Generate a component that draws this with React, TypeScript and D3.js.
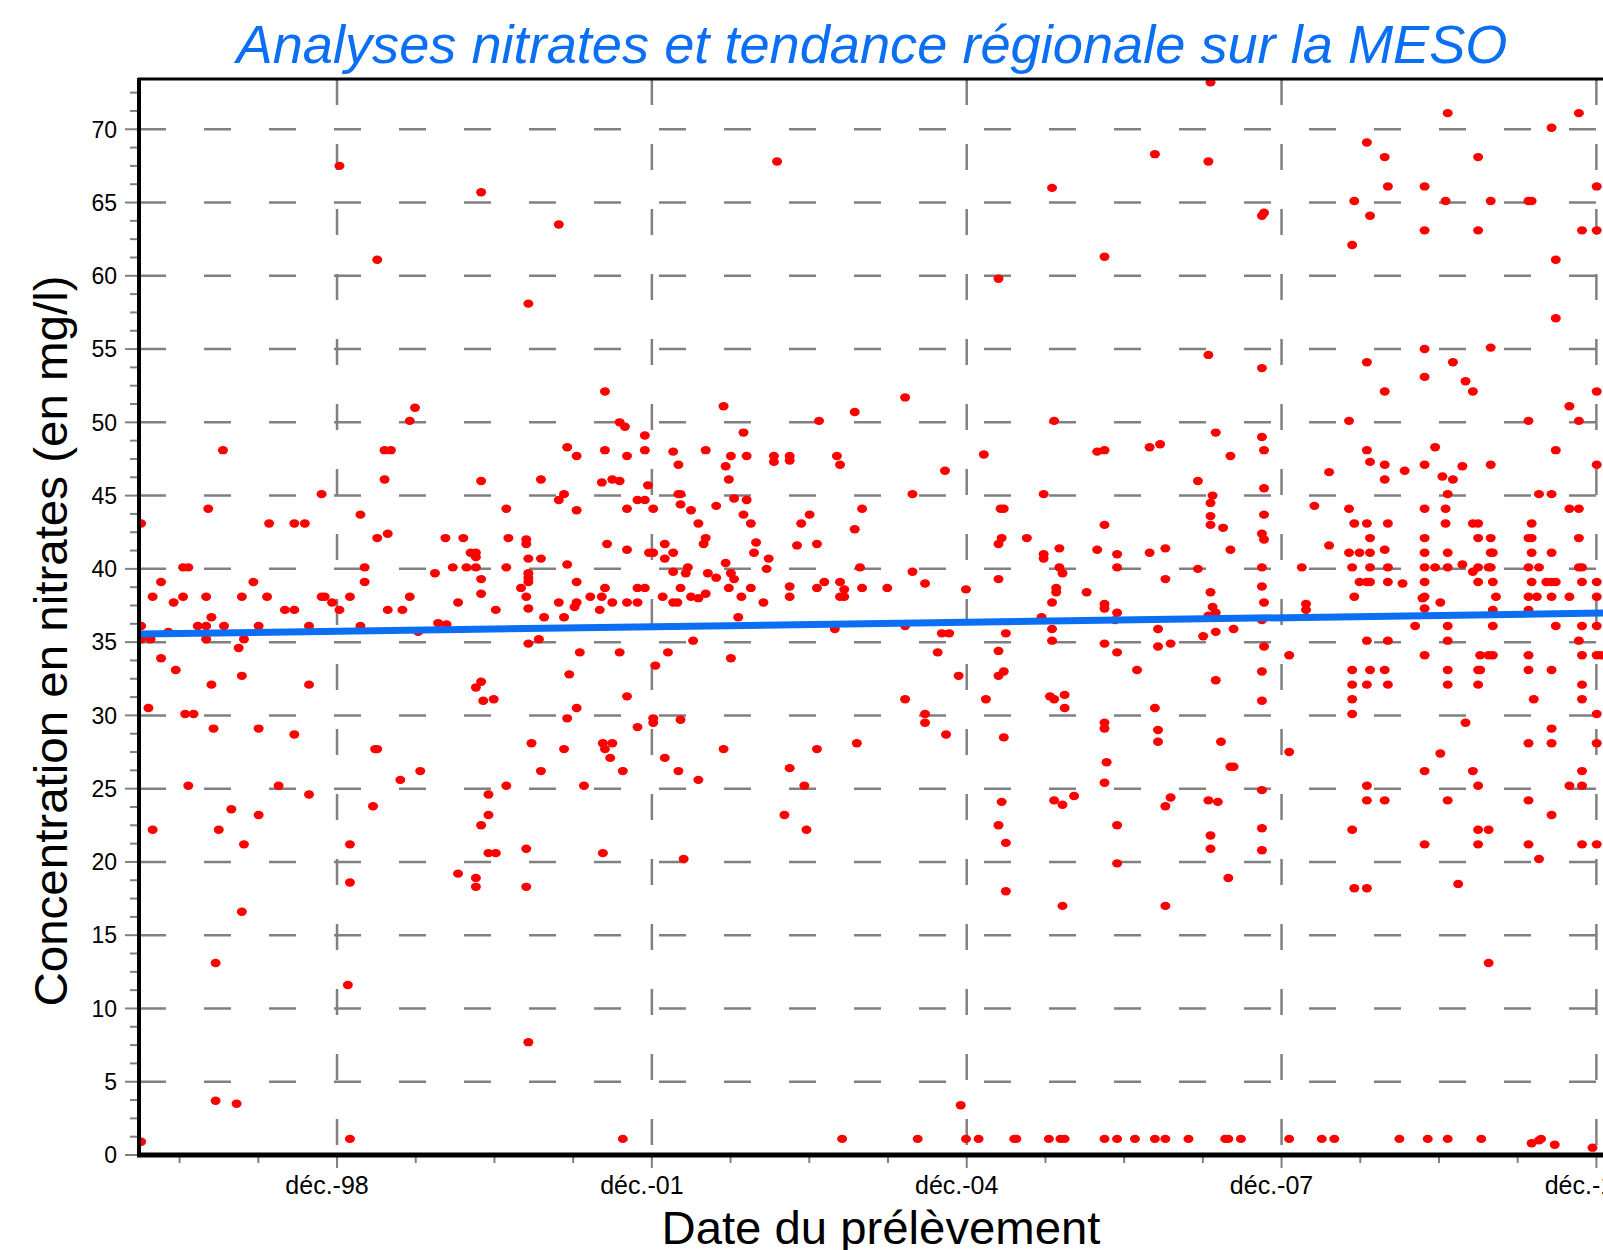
import React from 'react';
import * as d3 from 'd3';

// Analyses nitrates (mg/l) par date de prélèvement (année décimale)
const analyses1997_2001: [number, number][] = [
  [1998.94, 67.5], [2000.29, 65.7], [2001.03, 63.5], [1999.30, 61.1], [2000.74, 58.1], [2001.47, 52.1], [1999.66, 51.0], [1999.61, 50.1], [2001.61, 50.0], [2001.66, 49.7],
  [1997.83, 48.1], [1999.37, 48.1], [1999.43, 48.1], [2001.11, 48.3], [2001.20, 47.7], [2001.47, 48.1], [2001.68, 47.7],
  [1999.37, 46.1], [2000.29, 46.0], [2000.86, 46.1], [2001.44, 45.9], [2001.54, 46.1], [2001.61, 46.0],
  [1998.77, 45.1], [2001.08, 45.1], [2001.03, 44.7], [1997.69, 44.1], [1999.14, 43.7], [2000.53, 44.1], [2001.20, 44.0], [2001.68, 44.1],
  [1997.05, 43.1], [1998.27, 43.1], [1998.51, 43.1], [1998.61, 43.1],
  [1999.30, 42.1], [1999.40, 42.4], [1999.95, 42.1], [2000.12, 42.1], [2000.55, 42.1], [2000.72, 42.0], [2000.72, 41.7], [2001.49, 41.7], [2001.68, 41.3],
  [2000.19, 41.1], [2000.24, 41.1], [2000.24, 40.8], [2000.74, 40.7], [2000.86, 40.7],
  [1997.45, 40.1], [1997.50, 40.1], [1999.18, 40.1], [2000.02, 40.1], [2000.15, 40.1], [2000.24, 40.1], [2000.53, 40.1], [2001.11, 40.3],
  [1999.85, 39.7], [2000.74, 39.7], [2000.74, 39.4], [2000.74, 39.1],
  [1997.24, 39.1], [1998.12, 39.1], [1999.18, 39.1], [2000.29, 39.3], [2001.20, 39.1], [2000.67, 38.7], [2001.47, 38.7],
  [1997.16, 38.1], [1997.45, 38.1], [1997.67, 38.1], [1998.01, 38.1], [1998.25, 38.1], [1998.77, 38.1], [1998.80, 38.1], [1999.04, 38.1], [1999.61, 38.1], [2000.29, 38.3], [2000.72, 38.1], [2001.33, 38.1], [2001.44, 38.1],
  [1997.36, 37.7], [1998.87, 37.7], [2000.07, 37.7], [2001.03, 37.7], [2001.20, 37.7], [2001.18, 37.4], [2001.54, 37.7], [2001.68, 37.7],
  [1997.05, 36.1], [1998.42, 37.2], [1998.51, 37.2], [1998.94, 37.2], [1999.40, 37.2], [1999.54, 37.2], [2000.43, 37.2], [2000.74, 37.3], [2001.42, 37.2],
  [1997.72, 36.7], [2000.89, 36.7], [2001.08, 36.7],
  [1997.59, 36.1], [1997.67, 36.1], [1997.84, 36.1], [1998.17, 36.1], [1998.65, 36.1], [1997.31, 35.7], [1999.14, 36.1], [1999.88, 36.3], [1999.96, 36.2], [1999.69, 35.7],
  [1997.05, 35.2], [1997.14, 35.2], [1997.67, 35.2], [1998.03, 35.2], [1997.98, 34.6], [2000.74, 34.9], [2000.84, 35.2], [2001.23, 34.3], [2001.61, 34.3],
  [1997.24, 33.9], [1997.38, 33.1], [1998.01, 32.7], [1997.72, 32.1], [1998.65, 32.1], [2001.13, 32.8], [2000.29, 32.3], [2000.24, 31.9], [2000.31, 31.0], [2000.41, 31.1], [2001.68, 31.3],
  [1997.12, 30.5], [1997.47, 30.1], [1997.55, 30.1], [2001.20, 30.5], [2001.11, 29.8], [1997.74, 29.1], [1998.17, 29.1], [1998.51, 28.7],
  [2000.77, 28.1], [2001.45, 28.1], [2001.54, 28.1], [2001.47, 27.7], [2001.52, 27.1], [2001.08, 27.7], [1999.28, 27.7], [1999.30, 27.7],
  [1999.71, 26.2], [1999.52, 25.6], [2000.86, 26.2], [2001.64, 26.2],
  [1997.50, 25.2], [1998.36, 25.2], [2000.53, 25.2], [2001.27, 25.2], [1998.65, 24.6], [2000.36, 24.6],
  [1997.91, 23.6], [1999.26, 23.8], [1998.17, 23.2], [2000.36, 23.2], [2000.29, 22.5], [1997.16, 22.2], [1997.79, 22.2],
  [1998.03, 21.2], [1999.04, 21.2], [2000.36, 20.6], [2000.43, 20.6], [2000.72, 20.9], [2001.45, 20.6],
  [2000.07, 19.2], [2000.24, 18.9], [2000.24, 18.3], [2000.72, 18.3], [1999.04, 18.6],
  [1998.01, 16.6], [1997.76, 13.1], [1999.02, 11.6], [2000.74, 7.7], [1997.76, 3.7], [1997.96, 3.5],
  [1997.05, 0.9], [1999.04, 1.1], [2001.64, 1.1],
];

const analyses2001_2006: [number, number][] = [
  [2003.11, 67.8], [2005.73, 66.0], [2006.23, 61.3], [2005.22, 59.8], [2004.33, 51.7], [2002.60, 51.1], [2003.85, 50.7], [2003.51, 50.1], [2005.75, 50.1],
  [2001.85, 49.1], [2002.79, 49.3], [2001.85, 48.1], [2002.12, 48.0], [2002.43, 48.1], [2002.17, 47.1], [2002.67, 47.7], [2002.82, 47.7], [2002.62, 47.0],
  [2003.08, 47.7], [2003.08, 47.3], [2003.23, 47.7], [2003.23, 47.4], [2003.68, 47.7], [2003.71, 47.1], [2005.08, 47.8], [2006.16, 48.0], [2006.23, 48.1],
  [2002.65, 46.1], [2004.71, 46.7], [2001.88, 45.7], [2002.17, 45.1], [2002.19, 45.1], [2004.40, 45.1], [2005.65, 45.1],
  [2001.78, 44.7], [2001.85, 44.7], [2002.70, 44.8], [2002.82, 44.7], [2001.93, 44.1], [2002.19, 44.4], [2002.29, 44.0], [2002.53, 44.3], [2003.92, 44.1], [2005.24, 44.1], [2005.27, 44.1],
  [2002.79, 43.7], [2003.42, 43.7], [2002.36, 43.1], [2002.86, 43.1], [2003.34, 43.1], [2006.23, 43.0], [2003.85, 42.7],
  [2002.43, 42.1], [2002.41, 41.7], [2002.04, 41.7], [2002.91, 41.8], [2003.30, 41.6], [2003.49, 41.7], [2005.25, 42.1], [2005.22, 41.7], [2005.49, 42.1],
  [2001.89, 41.1], [2001.93, 41.1], [2002.12, 41.1], [2002.04, 40.7], [2002.89, 41.1], [2003.03, 40.7], [2005.80, 41.4], [2005.65, 41.0], [2005.65, 40.7], [2006.16, 41.3],
  [2002.12, 39.8], [2002.26, 40.1], [2002.24, 39.7], [2002.62, 40.4], [2002.45, 39.7], [2002.53, 39.4], [2002.67, 39.7], [2002.70, 39.3], [2003.01, 40.0], [2003.90, 40.1], [2004.40, 39.8], [2005.22, 39.3], [2005.80, 40.1], [2005.83, 39.7],
  [2001.78, 38.7], [2001.85, 38.7], [2002.19, 38.7], [2002.65, 38.7], [2002.86, 38.7], [2003.23, 38.8], [2003.49, 38.7], [2003.56, 39.1], [2003.71, 39.1], [2003.75, 38.6], [2003.92, 38.7], [2004.16, 38.7], [2004.52, 39.0], [2004.91, 38.6], [2005.77, 38.7], [2005.77, 38.4], [2006.06, 38.4],
  [2002.02, 38.1], [2002.29, 38.1], [2002.36, 38.0], [2002.43, 38.3], [2002.77, 38.1], [2003.23, 38.1], [2003.71, 38.1], [2003.75, 38.1],
  [2001.78, 37.7], [2002.12, 37.7], [2002.16, 37.7], [2002.98, 37.7], [2005.73, 37.7], [2006.23, 37.6], [2006.23, 37.3],
  [2002.74, 36.7], [2003.66, 35.9], [2004.33, 36.1], [2005.63, 36.7],
  [2002.31, 35.1], [2004.68, 35.6], [2004.75, 35.6], [2005.29, 35.6], [2005.73, 35.9], [2005.73, 35.1],
  [2002.07, 34.3], [2002.67, 33.9], [2001.95, 33.4], [2004.64, 34.3], [2005.22, 34.4], [2006.23, 34.9],
  [2004.84, 32.7], [2005.22, 32.7], [2005.27, 33.0],
  [2004.33, 31.1], [2005.10, 31.1], [2005.71, 31.3], [2005.75, 31.1], [2005.85, 31.4], [2005.85, 30.5],
  [2001.93, 29.8], [2001.93, 29.5], [2001.78, 29.2], [2002.19, 29.7], [2004.52, 30.1], [2004.52, 29.5], [2004.72, 28.7], [2005.27, 28.5], [2006.23, 29.5], [2006.23, 29.1],
  [2002.60, 27.7], [2003.49, 27.7], [2003.87, 28.1], [2002.04, 27.1],
  [2002.17, 26.2], [2002.36, 25.6], [2003.23, 26.4], [2003.37, 25.2], [2006.25, 26.8], [2006.23, 25.4],
  [2005.25, 24.1], [2005.75, 24.2], [2005.83, 23.9], [2005.94, 24.5],
  [2003.18, 23.2], [2003.39, 22.2], [2005.22, 22.5], [2005.29, 21.3], [2002.22, 20.2], [2005.29, 18.0], [2005.83, 17.0],
  [2004.86, 3.4],
  [2003.73, 1.1], [2004.45, 1.1], [2004.91, 1.1], [2005.03, 1.1], [2005.37, 1.1], [2005.39, 1.1], [2005.70, 1.1], [2005.81, 1.1], [2005.85, 1.1], [2006.23, 1.1],
];

const analyses2006_2011: [number, number][] = [
  [2007.24, 73.2], [2009.50, 71.1], [2010.75, 71.1], [2010.49, 70.1], [2008.73, 69.1], [2008.90, 68.1], [2009.79, 68.1], [2006.71, 68.3], [2007.22, 67.8],
  [2008.93, 66.1], [2009.28, 66.1], [2010.92, 66.1], [2008.61, 65.1], [2009.48, 65.1], [2009.91, 65.1], [2010.27, 65.1], [2010.30, 65.1],
  [2007.73, 64.1], [2007.75, 64.3], [2008.76, 64.1], [2009.28, 63.1], [2009.79, 63.1], [2010.78, 63.1], [2010.92, 63.1], [2008.59, 62.1], [2010.53, 61.1], [2010.53, 57.1],
  [2009.28, 55.0], [2009.91, 55.1], [2007.22, 54.6], [2008.73, 54.1], [2009.55, 54.1], [2007.73, 53.7], [2009.28, 53.1], [2009.67, 52.8], [2009.74, 52.1], [2008.90, 52.1], [2010.92, 52.1], [2010.66, 51.1],
  [2008.56, 50.1], [2010.27, 50.1], [2010.75, 50.1], [2007.29, 49.3], [2007.73, 49.0], [2006.66, 48.3], [2006.76, 48.5], [2007.75, 48.1], [2008.73, 48.1], [2009.38, 48.3], [2010.53, 48.1],
  [2007.43, 47.7], [2008.76, 47.3], [2008.90, 47.1], [2009.09, 46.7], [2009.28, 47.1], [2009.64, 47.0], [2009.91, 47.1], [2010.92, 47.1], [2008.37, 46.6], [2008.90, 46.1], [2009.45, 46.3], [2009.55, 46.1], [2007.12, 46.0],
  [2007.75, 45.5], [2007.26, 45.0], [2007.24, 44.5], [2009.50, 45.1], [2010.37, 45.1], [2010.49, 45.1], [2008.23, 44.3], [2008.56, 44.1], [2009.28, 44.1], [2009.48, 44.1], [2010.66, 44.1], [2010.75, 44.1],
  [2007.75, 43.7], [2007.24, 43.6], [2007.24, 43.0], [2007.36, 42.8], [2008.61, 43.1], [2008.73, 43.1], [2008.93, 43.1], [2009.48, 43.1], [2009.74, 43.1], [2009.79, 43.1], [2010.30, 43.1],
  [2007.73, 42.4], [2007.75, 42.0], [2008.76, 42.1], [2009.28, 42.1], [2009.79, 42.1], [2009.91, 42.1], [2010.27, 42.1], [2010.30, 42.1], [2010.75, 42.1],
  [2006.35, 41.0], [2006.66, 41.1], [2006.81, 41.4], [2007.43, 41.3], [2008.37, 41.6], [2008.56, 41.1], [2008.66, 41.1], [2008.76, 41.1], [2008.90, 41.3], [2009.28, 41.1], [2009.50, 41.1], [2009.91, 41.1], [2009.93, 41.1], [2010.30, 41.1], [2010.49, 41.1],
  [2006.35, 40.1], [2007.12, 40.0], [2007.73, 40.1], [2008.11, 40.1], [2008.59, 40.1], [2008.76, 40.1], [2008.93, 40.1], [2009.28, 40.1], [2009.38, 40.1], [2009.50, 40.1], [2009.64, 40.3], [2009.74, 39.8], [2009.79, 40.1], [2009.89, 40.1], [2009.91, 40.1], [2010.27, 40.1], [2010.37, 40.1], [2010.75, 40.1], [2010.78, 40.1],
  [2006.81, 39.3], [2007.73, 38.8], [2008.66, 39.1], [2008.73, 39.1], [2008.76, 39.1], [2008.93, 39.1], [2009.07, 39.0], [2009.28, 39.1], [2009.79, 39.1], [2009.93, 39.1], [2010.30, 39.1], [2010.44, 39.1], [2010.49, 39.1], [2010.53, 39.1], [2010.78, 39.1], [2010.92, 39.1],
  [2007.24, 38.4], [2008.61, 38.1], [2009.26, 38.0], [2009.28, 38.1], [2009.96, 38.1], [2010.27, 38.1], [2010.35, 38.1], [2010.49, 38.1], [2010.66, 38.1], [2010.92, 38.1],
  [2007.26, 37.4], [2007.75, 37.7], [2008.15, 37.6], [2009.43, 37.7],
  [2006.35, 37.0], [2006.33, 36.5], [2007.22, 36.8], [2007.29, 37.0], [2007.73, 36.5], [2008.15, 37.2], [2009.28, 37.3], [2009.93, 37.2], [2010.27, 37.2],
  [2009.19, 36.1], [2009.50, 36.1], [2009.93, 36.1], [2010.53, 36.1], [2010.78, 36.1], [2010.92, 36.1],
  [2006.74, 35.9], [2007.17, 35.4], [2007.29, 35.7], [2007.46, 35.9],
  [2006.35, 34.3], [2006.74, 34.7], [2006.86, 34.9], [2007.75, 34.7], [2008.73, 35.1], [2008.93, 35.1], [2009.50, 35.1], [2010.75, 35.1],
  [2007.99, 34.1], [2009.28, 34.1], [2009.81, 34.1], [2009.89, 34.1], [2009.93, 34.1], [2010.27, 34.1], [2010.78, 34.1], [2010.92, 34.1], [2010.96, 34.1],
  [2006.54, 33.1], [2007.73, 33.0], [2008.59, 33.1], [2008.76, 33.1], [2008.90, 33.1], [2009.50, 33.1], [2009.79, 33.1], [2009.81, 33.1], [2010.27, 33.1], [2010.49, 33.1],
  [2007.29, 32.4], [2008.59, 32.1], [2008.73, 32.1], [2008.93, 32.1], [2009.50, 32.1], [2009.79, 32.1], [2010.78, 32.1],
  [2008.59, 31.1], [2010.32, 31.1], [2010.78, 31.1], [2007.73, 31.0], [2006.71, 30.5], [2008.59, 30.1], [2010.92, 30.1],
  [2009.67, 29.5], [2006.74, 29.0], [2010.49, 29.1], [2006.74, 28.2], [2007.34, 28.2], [2010.27, 28.1], [2010.49, 28.1], [2010.92, 28.1],
  [2007.99, 27.5], [2009.43, 27.4], [2007.43, 26.5], [2007.46, 26.5], [2009.28, 26.2], [2009.74, 26.2], [2010.78, 26.2],
  [2007.73, 24.9], [2008.73, 25.2], [2009.79, 25.2], [2010.66, 25.2], [2010.78, 25.2],
  [2006.86, 24.4], [2006.81, 23.8], [2007.22, 24.2], [2007.31, 24.1], [2008.73, 24.2], [2008.90, 24.2], [2009.50, 24.2], [2010.27, 24.2], [2010.49, 23.2],
  [2006.35, 22.5], [2007.73, 22.3], [2007.24, 21.8], [2007.24, 20.9], [2007.73, 20.8], [2008.59, 22.2], [2009.79, 22.2], [2009.89, 22.2], [2009.28, 21.2], [2009.79, 21.2], [2010.27, 21.2], [2010.78, 21.2], [2010.92, 21.2],
  [2006.35, 19.9], [2010.37, 20.2], [2007.41, 18.9], [2008.61, 18.2], [2008.73, 18.2], [2009.60, 18.5], [2006.81, 17.0], [2009.89, 13.1],
  [2006.35, 1.1], [2006.52, 1.1], [2006.71, 1.1], [2006.81, 1.1], [2007.03, 1.1], [2007.38, 1.1], [2007.41, 1.1], [2007.53, 1.1], [2007.99, 1.1], [2008.30, 1.1], [2008.42, 1.1], [2009.04, 1.1], [2009.31, 1.1], [2009.50, 1.1], [2009.82, 1.1],
  [2010.30, 0.8], [2010.37, 1.0], [2010.39, 1.1], [2010.52, 0.7], [2010.88, 0.5],
];

// tendance régionale (droite de régression)
const trend: [number, number][] = [[1997.03, 35.55], [2010.98, 36.98]];

const xTickYears = [1998.917, 2001.917, 2004.917, 2007.917, 2010.917];
const xTickLabels = ['déc.-98', 'déc.-01', 'déc.-04', 'déc.-07', 'déc.-10'];
const yTicks = [0, 5, 10, 15, 20, 25, 30, 35, 40, 45, 50, 55, 60, 65, 70];

const W = 1603;
const H = 1250;
const left = 139;
const top = 79;
const bottom = 1155;

export default function App() {
  const x = d3.scaleLinear().domain([1997.03, 2010.98]).range([left, W]);
  const y = d3.scaleLinear().domain([0, 73.43]).range([bottom, top]);

  const points = [...analyses1997_2001, ...analyses2001_2006, ...analyses2006_2011];

  const yMinor = d3.range(0, 73.43, 1.25).filter(v => v % 5 !== 0);
  const xMinor = d3.range(-4, 20).map(k => xTickYears[0] + k * 0.75)
    .filter(v => v >= 1997.03 && v <= 2010.98 && Math.abs(((v - xTickYears[0]) / 3) - Math.round((v - xTickYears[0]) / 3)) > 0.01);

  const line = d3.line<[number, number]>().x(d => x(d[0])).y(d => y(d[1]));
  const grey = '#808080';
  const blue = '#0a6ff2';
  const font = '"Liberation Sans", Arial, sans-serif';

  return (
    <div style={{ position: 'absolute', left: 0, top: 0, width: W, height: H, overflow: 'hidden', background: '#fff' }}>
      <svg width={W} height={H} style={{ display: 'block' }} fontFamily={font}>
        <defs>
          <clipPath id="plot">
            <rect x={left} y={top} width={W - left} height={bottom - top} />
          </clipPath>
        </defs>
        <rect width={W} height={H} fill="#fff" />

        {/* grille */}
        <g stroke={grey} strokeWidth={2.5}>
          {yTicks.filter(t => t > 0).map(t => (
            <line key={'gy' + t} x1={left} x2={W} y1={y(t)} y2={y(t)} strokeDasharray="27 38" />
          ))}
          {xTickYears.map(t => (
            <line key={'gx' + t} x1={x(t)} x2={x(t)} y1={top} y2={bottom} strokeDasharray="26 39" />
          ))}
        </g>

        {/* graduations */}
        <g stroke={grey} strokeWidth={2}>
          {yTicks.map(t => <line key={'ty' + t} x1={125} x2={left} y1={y(t)} y2={y(t)} />)}
          {yMinor.map(t => <line key={'tym' + t} x1={130} x2={left} y1={y(t)} y2={y(t)} />)}
          {xTickYears.map(t => <line key={'tx' + t} x1={x(t)} x2={x(t)} y1={bottom} y2={bottom + 13} />)}
          {xMinor.map(t => <line key={'txm' + t} x1={x(t)} x2={x(t)} y1={bottom} y2={bottom + 8} />)}
        </g>

        {/* analyses */}
        <g clipPath="url(#plot)" fill="#ff0000">
          {points.map((d, i) => (
            <ellipse key={i} cx={x(d[0])} cy={y(d[1])} rx={5} ry={4.2} />
          ))}
        </g>

        {/* tendance */}
        <path d={line(trend) || ''} fill="none" stroke={blue} strokeWidth={7} />

        {/* cadre */}
        <line x1={left - 1} x2={W} y1={top} y2={top} stroke="#000" strokeWidth={3} />
        <line x1={left} x2={left} y1={top - 1} y2={bottom + 2} stroke="#000" strokeWidth={4} />
        <line x1={left - 2} x2={W} y1={bottom} y2={bottom} stroke="#000" strokeWidth={5} />

        {/* libellés */}
        {yTicks.map(t => (
          <text key={'ly' + t} x={117} y={y(t)} dy="0.36em" textAnchor="end" fontSize={23} fill="#000">{t}</text>
        ))}
        {xTickYears.map((t, i) => (
          <text key={'lx' + t} x={x(t) - 10} y={1194} textAnchor="middle" fontSize={25} fill="#000">{xTickLabels[i]}</text>
        ))}

        <text x={872} y={63} textAnchor="middle" fontSize={53} fontStyle="italic" fill={blue}
          textLength={1271} lengthAdjust="spacingAndGlyphs">Analyses nitrates et tendance régionale sur la MESO</text>
        <text transform="translate(67,641) rotate(-90)" textAnchor="middle" fontSize={46} fill="#000"
          textLength={731} lengthAdjust="spacingAndGlyphs">Concentration en nitrates (en mg/l)</text>
        <text x={881} y={1244} textAnchor="middle" fontSize={46} fill="#000"
          textLength={439} lengthAdjust="spacingAndGlyphs">Date du prélèvement</text>
      </svg>
    </div>
  );
}
